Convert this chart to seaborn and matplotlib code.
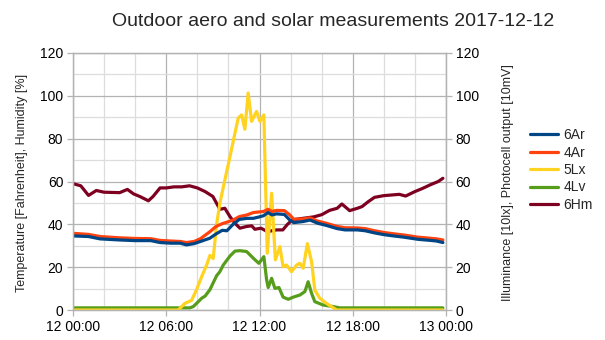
import numpy as np
import pandas as pd
import matplotlib
matplotlib.use("Agg")
import matplotlib.pyplot as plt
import matplotlib.dates as mdates
from matplotlib.ticker import MultipleLocator
import seaborn as sns

# ---------------- data (hours after 2017-12-12 00:00) ----------------
series_names = ["6Ar", "4Ar", "5Lx", "4Lv", "6Hm"]

ar_hours = [0, 1.0, 1.75, 3.0, 4.0, 5.0, 5.6, 6.3, 6.9, 7.3, 7.8, 8.2, 8.8, 9.2, 9.6,
            9.9, 10.3, 10.7, 11.2, 11.6, 12.0, 12.25, 12.55, 12.8, 13.1, 13.6, 13.95,
            14.2, 14.8, 15.25, 15.75, 16.3, 17.0, 17.5, 18.3, 18.8, 19.4, 20.0, 20.5,
            21.3, 22.2, 23.0, 23.4, 23.8]
ar6_values = [34.6, 34.3, 33.2, 32.7, 32.4, 32.4, 31.5, 31.2, 31.2, 30.4, 31, 32, 33.5,
              35.5, 37.2, 37, 40, 42.3, 42.8, 42.8, 43.5, 44, 45.5, 44.4, 44.9, 44.6, 42,
              40.8, 41.3, 42, 40.5, 39.5, 38, 37.4, 37.4, 37, 36, 35.2, 34.7, 34, 33,
              32.5, 32.2, 31.5]
ar4_values = [35.8, 35.3, 34.3, 33.7, 33.4, 33.3, 32.5, 32.2, 32, 31.5, 32, 33.3, 36.5,
              39, 40.3, 41, 42, 43.6, 44.4, 45.5, 45.8, 46, 47, 46, 46.5, 46.4, 44.4,
              42.4, 42.5, 43, 41.5, 40.5, 39, 38.4, 38.3, 38, 37, 36.2, 35.7, 35, 34,
              33.5, 33.2, 32.7]

lx_hours = [0, 6.77, 7.2, 7.63, 7.95, 8.28, 8.6, 8.81, 9.02, 9.24, 9.45, 9.77, 10.1,
            10.42, 10.63, 10.85, 11.06, 11.27, 11.49, 11.81, 12.03, 12.28, 12.5, 12.78,
            13.02, 13.31, 13.52, 13.74, 14.06, 14.39, 14.6, 14.81, 15.08, 15.35, 15.56,
            15.88, 16.31, 16.96, 23.8]
lx_values = [0, 0, 3.1, 4.5, 9.5, 15.6, 21, 25.5, 24, 40, 49.9, 60.7, 71.6, 82.6, 89.6,
             91.1, 84.4, 101.3, 88.1, 92.7, 88.1, 91.1, 26.5, 54.5, 23.4, 29.6, 20.2, 21,
             17.9, 21, 21.8, 19.5, 31, 22.6, 9.3, 5.5, 3.1, 0, 0]

lv_hours = [0, 7.52, 7.74, 7.95, 8.28, 8.5, 8.81, 9.24, 9.45, 9.67, 10.1, 10.42, 10.74,
            11.17, 11.49, 11.7, 11.96, 12.28, 12.46, 12.56, 12.78, 12.99, 13.25, 13.52,
            13.85, 14.17, 14.6, 14.92, 15.13, 15.35, 15.56, 16.1, 16.74, 17.17, 23.8]
lv_values = [1, 1, 1.6, 3.1, 5.5, 6.5, 9.5, 16, 17.9, 21, 25.2, 27.5, 27.7, 27.3, 25,
             23.5, 21.8, 24.9, 14, 10.5, 14.8, 10.1, 10.5, 6, 5, 6, 7, 8.6, 13.2, 7.8,
             3.9, 2.3, 1.6, 1, 1]

hm_hours = [0, 0.5, 1.0, 1.5, 2.0, 3.0, 3.5, 3.9, 4.3, 4.85, 5.15, 5.6, 6.0, 6.5, 7.0,
            7.5, 8.0, 8.5, 9.0, 9.24, 9.45, 9.77, 10.1, 10.42, 10.74, 11.17, 11.5, 11.7,
            12.1, 12.5, 13.1, 13.5, 13.8, 14.1, 14.5, 15.0, 15.5, 16.0, 16.5, 17.0, 17.3,
            17.8, 18.3, 18.6, 19.0, 19.4, 20.0, 20.5, 21.0, 21.4, 22.0, 22.5, 23.0, 23.5,
            23.8]
hm_values = [59, 58, 53.5, 55.8, 55, 54.8, 56.3, 54.2, 53, 51, 53, 57, 57, 57.5, 57.5,
             58, 57, 55.3, 53, 49.8, 47, 47.5, 43.6, 40.5, 38.2, 39, 39.3, 37.7, 38.2,
             36.6, 37.4, 37.4, 40, 42, 42.5, 43, 43.5, 44.5, 46.5, 47.5, 49.5, 46.4, 47.5,
             48.3, 50.6, 52.6, 53.4, 53.7, 54, 53.2, 55.3, 56.8, 58.5, 60, 61.5]

colors = {"6Ar": "#004586", "4Ar": "#ff420e", "5Lx": "#ffd320",
          "4Lv": "#579d1c", "6Hm": "#7e0021"}

base = pd.Timestamp("2017-12-12")


def frame(hours, values, name):
    return pd.DataFrame({"time": base + pd.to_timedelta(np.array(hours), unit="h"),
                         "value": values, "series": name})


frames = {
    "6Ar": frame(ar_hours, ar6_values, "6Ar"),
    "4Ar": frame(ar_hours, ar4_values, "4Ar"),
    "5Lx": frame(lx_hours, lx_values, "5Lx"),
    "4Lv": frame(lv_hours, lv_values, "4Lv"),
    "6Hm": frame(hm_hours, hm_values, "6Hm"),
}

# ---------------- plot ----------------
sns.set_theme(style="white")
plt.rcParams['font.family'] = ['Liberation Sans', 'DejaVu Sans']

fig = plt.figure(figsize=(6.05, 3.4), dpi=100)
ax = fig.add_axes([73 / 605, 30 / 340, 373 / 605, 257 / 340])

lw = 2.3
for name in ["6Hm", "4Lv", "5Lx", "4Ar", "6Ar"]:
    sns.lineplot(data=frames[name], x="time", y="value", ax=ax, color=colors[name],
                 linewidth=lw, label=name, legend=False)

ax.set_xlim(base, base + pd.Timedelta(hours=24))
ax.set_ylim(0, 120)
ax.xaxis.set_major_locator(mdates.HourLocator(byhour=[0, 6, 12, 18]))
ax.xaxis.set_minor_locator(mdates.HourLocator(byhour=list(range(0, 24, 2))))
ax.xaxis.set_major_formatter(mdates.DateFormatter("%d %H:%M"))
ax.yaxis.set_major_locator(MultipleLocator(20))
ax.yaxis.set_minor_locator(MultipleLocator(10))

ax.grid(True, which="major", color="#b3b3b3", linewidth=0.9)
ax.grid(True, which="minor", color="#dddddd", linewidth=0.9)
ax.set_axisbelow(True)
ax.set_xlabel("")
ax.set_ylabel("")
for s in ax.spines.values():
    s.set_color("#b3b3b3")
    s.set_linewidth(0.9)
ax.tick_params(axis="both", which="major", length=4, width=0.9, color="#b3b3b3",
               labelsize=10, labelcolor="black", pad=3, direction="out")
ax.tick_params(axis="both", which="minor", length=0)
ax.tick_params(axis="x", bottom=True)
ax.tick_params(axis="y", left=True)

ax2 = ax.twinx()
ax2.set_ylim(0, 120)
ax2.yaxis.set_major_locator(MultipleLocator(20))
ax2.tick_params(axis="y", which="major", length=4, width=0.9, color="#b3b3b3",
                labelsize=10, labelcolor="black", pad=3, direction="out")
ax2.grid(False)
for s in ax2.spines.values():
    s.set_color("#b3b3b3")
    s.set_linewidth(0.9)

fig.text(333 / 605, 1 - 22 / 340, "Outdoor aero and solar measurements 2017-12-12",
         ha="center", va="center", fontsize=14)
fig.text(22 / 605, 1 - 183 / 340, "Temperature [Fahrenheit], Humidity [%]",
         rotation=90, ha="center", va="center", fontsize=9)
fig.text(508 / 605, 1 - 183 / 340, "Illuminance [10lx], Photocell output [10mV]",
         rotation=90, ha="center", va="center", fontsize=9)

handles = {l.get_label(): l for l in ax.get_lines() if l.get_label() in series_names}
fig.legend([handles[n] for n in series_names], series_names, loc="center left",
           bbox_to_anchor=(530 / 605, 0.5), frameon=False, fontsize=10,
           handlelength=2.0, handletextpad=0.4, labelspacing=0.25, borderpad=0,
           borderaxespad=0)

fig.savefig("out.png", dpi=100)
